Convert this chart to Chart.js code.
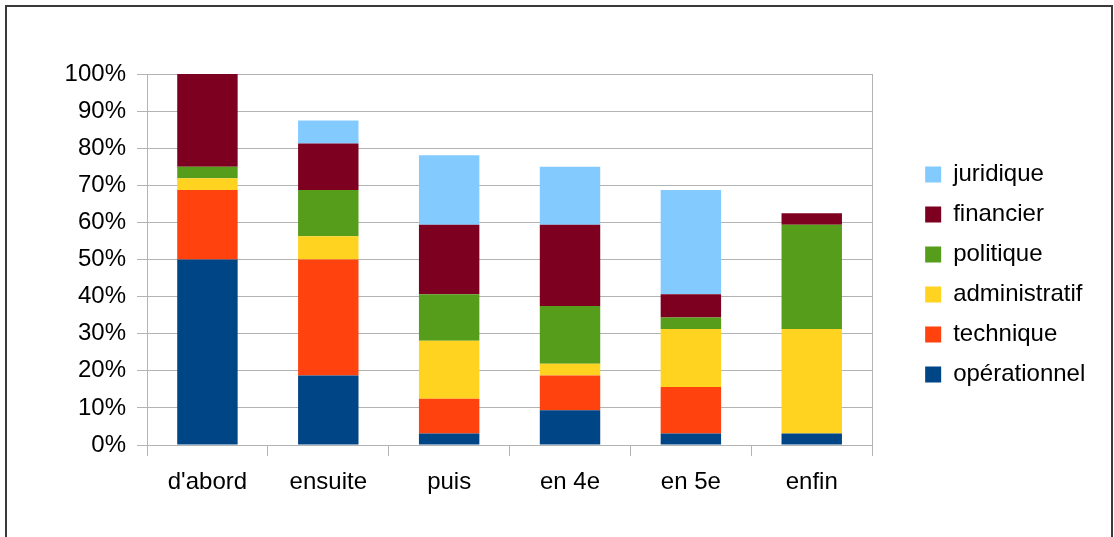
<!DOCTYPE html>
<html>
<head>
<meta charset="utf-8">
<script src="https://cdn.jsdelivr.net/npm/chart.js@4/dist/chart.umd.min.js"></script>
<style>
  html, body { margin: 0; padding: 0; background: #fff; }
  #wrap { position: relative; width: 1114px; height: 537px; overflow: hidden; }
  #frame {
    position: absolute; left: 5px; top: 5px; width: 1104px; height: 560px;
    border: 2px solid #3a3a3a; border-bottom: none; pointer-events: none;
  }
  canvas { position: absolute; left: 0; top: 0; }
</style>
</head>
<body>
<div id="wrap">
  <canvas id="chart" width="1114" height="537"></canvas>
  <div id="frame"></div>
</div>
<script>
// categories and series (percent)
const categories = ["d'abord", "ensuite", "puis", "en 4e", "en 5e", "enfin"];
const operationnel  = [50, 18.75, 3.125, 9.375, 3.125, 3.125];
const technique     = [18.75, 31.25, 9.375, 9.375, 12.5, 0];
const administratif = [3.125, 6.25, 15.625, 3.125, 15.625, 28.125];
const politique     = [3.125, 12.5, 12.5, 15.625, 3.125, 28.125];
const financier     = [25, 12.5, 18.75, 21.875, 6.25, 3.125];
const juridique     = [0, 6.25, 18.75, 15.625, 28.125, 0];
const yTicks = [0, 10, 20, 30, 40, 50, 60, 70, 80, 90, 100];

const gridGray = "#b3b3b3";
const font = { family: "'Liberation Sans', Arial, sans-serif", size: 24 };

function ds(label, data, color) {
  return {
    label: label,
    data: data,
    backgroundColor: color,
    borderWidth: 0,
    categoryPercentage: 1,
    barPercentage: 0.5
  };
}

new Chart(document.getElementById("chart"), {
  type: "bar",
  data: {
    labels: categories,
    datasets: [
      ds("opérationnel", operationnel, "#004586"),
      ds("technique", technique, "#ff420e"),
      ds("administratif", administratif, "#ffd320"),
      ds("politique", politique, "#579d1c"),
      ds("financier", financier, "#7e0021"),
      ds("juridique", juridique, "#83caff")
    ]
  },
  options: {
    responsive: false,
    animation: false,
    layout: { padding: { left: 0, right: 23, top: 12, bottom: 0 } },
    plugins: {
      tooltip: { enabled: false },
      legend: {
        position: "right",
        reverse: true,
        labels: {
          font: font,
          color: "#000",
          boxWidth: 16,
          boxHeight: 16,
          padding: 16
        }
      }
    },
    scales: {
      x: {
        stacked: true,
        offset: true,
        afterFit: s => { s.height = 92; },
        grid: {
          offset: true,
          drawOnChartArea: false,
          tickLength: 11,
          tickColor: gridGray,
          color: gridGray
        },
        border: { color: gridGray },
        ticks: { font: font, color: "#000", padding: 12 }
      },
      xTop: {
        type: "category",
        position: "top",
        afterFit: s => { s.height = 62; },
        ticks: { display: false },
        grid: { display: false },
        border: { display: false }
      },
      y: {
        stacked: true,
        min: 0,
        max: 100,
        afterFit: s => { s.width = 147; },
        afterBuildTicks: s => { s.ticks = yTicks.map(v => ({ value: v })); },
        grid: { color: gridGray, tickLength: 10, tickColor: gridGray },
        border: { color: gridGray },
        ticks: { font: font, color: "#000", padding: 11, callback: v => v + "%" }
      },
      yRight: {
        type: "linear",
        position: "right",
        min: 0,
        max: 100,
        afterFit: s => { s.width = 37; },
        ticks: { display: false },
        grid: { display: false },
        border: { color: gridGray }
      }
    }
  }
});
</script>
</body>
</html>
